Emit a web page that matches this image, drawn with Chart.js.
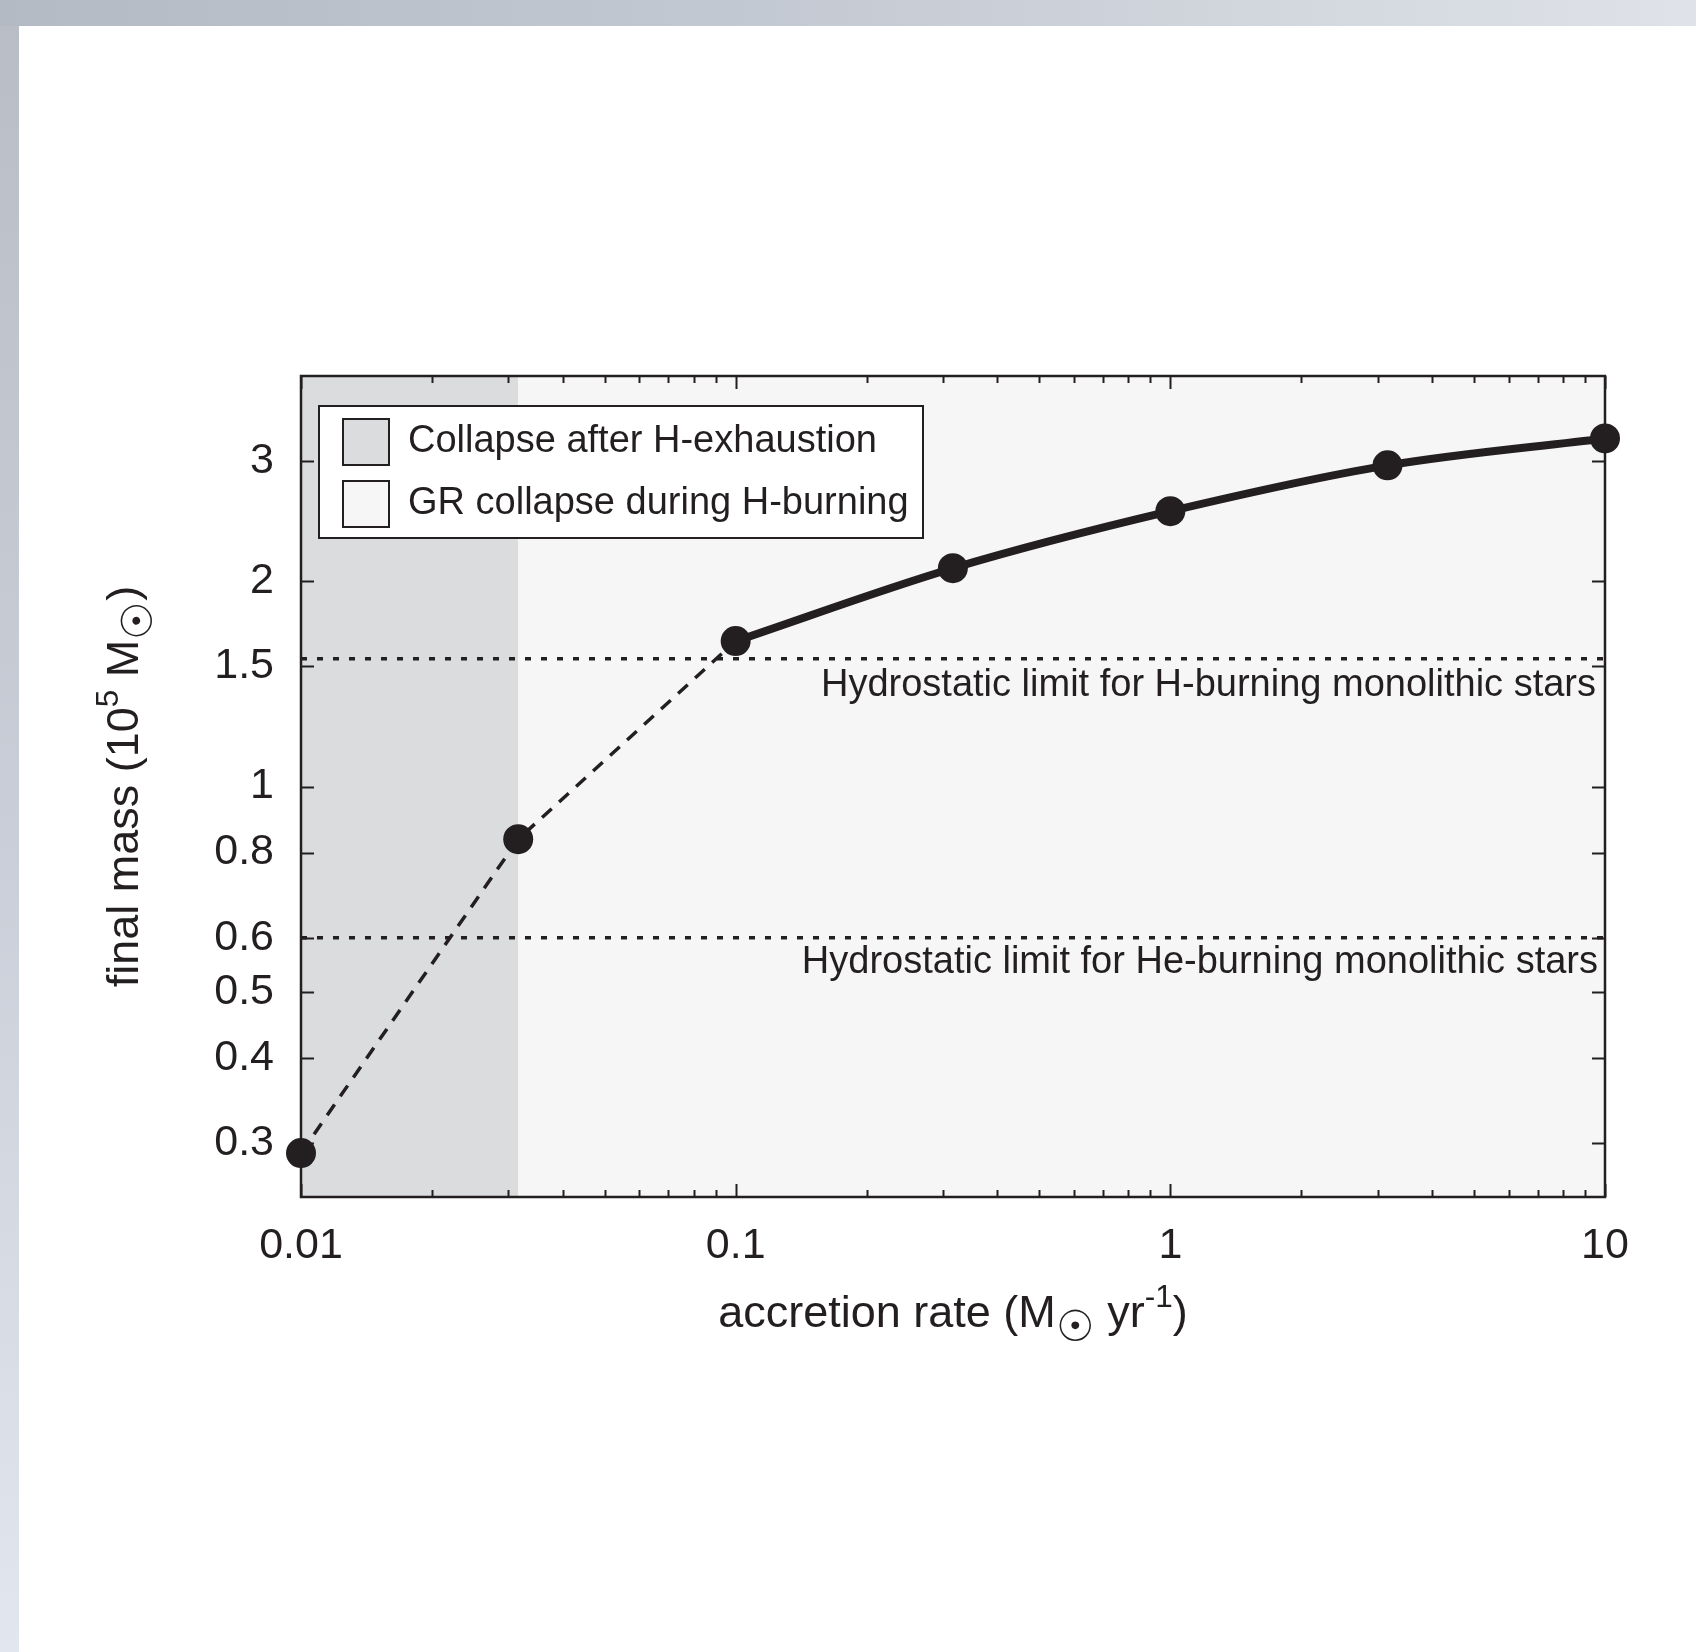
<!DOCTYPE html>
<html>
<head>
<meta charset="utf-8">
<script src="https://cdn.jsdelivr.net/npm/chart.js@4.4.1/dist/chart.umd.min.js"></script>
<style>
  html, body { margin: 0; padding: 0; }
  body {
    width: 1696px; height: 1652px; position: relative; overflow: hidden;
    background: linear-gradient(90deg, #b4bac4 0%, #c3c9d2 45%, #dfe2e8 100%);
  }
  #leftband {
    position: absolute; left: 0; top: 26px; width: 19px; bottom: 0;
    background: linear-gradient(180deg, #b9bec6 0%, #c9ced8 50%, #e2e6ee 100%);
  }
  #frame { position: absolute; left: 19px; top: 26px; right: 0; bottom: 0; background: #fff; }
  #wrap { position: absolute; left: 0; top: 0; width: 1696px; height: 1652px; }
</style>
</head>
<body>
<div id="leftband"></div>
<div id="frame"></div>
<div id="wrap"><canvas id="chart" width="1696" height="1652"></canvas></div>
<script>
// accretion rate (Msun/yr) and final mass (1e5 Msun)
var rate = [0.01, 0.0316, 0.1, 0.316, 1, 3.16, 10];
var mass = [0.29, 0.837, 1.634, 2.09, 2.534, 2.958, 3.24];
// models that collapse during H-burning (solid curve)
var rateGR = [0.1, 0.316, 1, 3.16, 10];
var massGR = [1.634, 2.09, 2.534, 2.958, 3.24];

var limitH = 1.54;
var limitHe = 0.6;
var limitLabels = ['Hydrostatic limit for H-burning monolithic stars',
                   'Hydrostatic limit for He-burning monolithic stars'];

var xTicks = [0.01, 0.1, 1, 10];
var yTicks = [0.3, 0.4, 0.5, 0.6, 0.8, 1, 1.5, 2, 3];

// shaded regions: [from, to] in accretion rate
var regionEdges = [0.01, 0.0316, 10];
var regionNames = ['Collapse after H-exhaustion', 'GR collapse during H-burning'];
var regionColors = ['#dbdcde', '#f6f6f6'];

var ink = '#231f20';
var fontFam = '"Liberation Sans", Arial, Helvetica, sans-serif';

function pts(xs, ys) {
  var out = [];
  for (var i = 0; i < xs.length; i++) out.push({x: xs[i], y: ys[i]});
  return out;
}

function drawRich(ctx, parts, size, x, y) {
  // parts: [text, shift, scale] shift 0 normal, -1 subscript, 1 superscript
  var total = 0;
  parts.forEach(function(p) {
    ctx.font = (size * p[2]) + 'px ' + fontFam;
    total += ctx.measureText(p[0]).width;
  });
  var cx = x - total / 2;
  ctx.textAlign = 'left';
  ctx.textBaseline = 'alphabetic';
  parts.forEach(function(p) {
    ctx.font = (size * p[2]) + 'px ' + fontFam;
    var dy = p[1] === -1 ? size * 0.3 : (p[1] === 1 ? -size * 0.45 : 0);
    ctx.fillText(p[0], cx, y + dy);
    cx += ctx.measureText(p[0]).width;
  });
}

var framePlugin = {
  id: 'frame',
  beforeDatasetsDraw: function(chart) {
    var ctx = chart.ctx, a = chart.chartArea;
    var xs = chart.scales.x, ys = chart.scales.y;
    ctx.save();
    // regions
    for (var i = 0; i < regionEdges.length - 1; i++) {
      var x0 = xs.getPixelForValue(regionEdges[i]);
      var x1 = xs.getPixelForValue(regionEdges[i + 1]);
      ctx.fillStyle = regionColors[i];
      ctx.fillRect(x0, a.top, x1 - x0, a.bottom - a.top);
    }
    // inward ticks
    ctx.strokeStyle = ink;
    ctx.lineWidth = 2;
    ctx.beginPath();
    for (var d = -2; d < 1; d++) {
      for (var k = 1; k <= 10; k++) {
        var v = k * Math.pow(10, d);
        var px = Math.round(xs.getPixelForValue(v)) + 0.5;
        var len = (k === 1 || k === 10) ? 13 : 7;
        ctx.moveTo(px, a.bottom); ctx.lineTo(px, a.bottom - len);
        ctx.moveTo(px, a.top); ctx.lineTo(px, a.top + len);
      }
    }
    yTicks.forEach(function(v) {
      var py = Math.round(ys.getPixelForValue(v)) + 0.5;
      ctx.moveTo(a.left, py); ctx.lineTo(a.left + 13, py);
      ctx.moveTo(a.right, py); ctx.lineTo(a.right - 13, py);
    });
    ctx.stroke();
    // box
    ctx.lineWidth = 2.5;
    ctx.strokeRect(a.left, a.top, a.right - a.left, a.bottom - a.top);
    ctx.restore();
  },
  afterDatasetsDraw: function(chart) {
    var ctx = chart.ctx, a = chart.chartArea;
    var ys = chart.scales.y;
    ctx.save();
    ctx.fillStyle = ink;
    // limit labels
    ctx.font = '38px ' + fontFam;
    ctx.textAlign = 'right';
    ctx.textBaseline = 'middle';
    ctx.fillText(limitLabels[0], a.right - 9, ys.getPixelForValue(limitH) + 27);
    ctx.fillText(limitLabels[1], a.right - 7, ys.getPixelForValue(limitHe) + 25);

    // legend
    var lx = 319, ly = 406, lw = 604, lh = 132;
    ctx.fillStyle = '#ffffff';
    ctx.fillRect(lx, ly, lw, lh);
    ctx.strokeStyle = ink;
    ctx.lineWidth = 2;
    ctx.strokeRect(lx, ly, lw, lh);
    for (var i = 0; i < regionNames.length; i++) {
      var sy = ly + 13 + i * 62;
      ctx.fillStyle = regionColors[i];
      ctx.fillRect(343, sy, 46, 46);
      ctx.strokeRect(343, sy, 46, 46);
      ctx.fillStyle = ink;
      ctx.textAlign = 'left';
      ctx.textBaseline = 'middle';
      ctx.font = '38px ' + fontFam;
      ctx.fillText(regionNames[i], 408, sy + 23);
    }

    // axis titles
    ctx.fillStyle = ink;
    drawRich(ctx, [['accretion rate (M', 0, 1], ['\u2609', -1, 0.95], [' yr', 0, 1], ['-1', 1, 0.7], [')', 0, 1]],
      45, (a.left + a.right) / 2, 1327);
    ctx.save();
    ctx.translate(138, (a.top + a.bottom) / 2);
    ctx.rotate(-Math.PI / 2);
    drawRich(ctx, [['final mass (10', 0, 1], ['5', 1, 0.7], [' M', 0, 1], ['\u2609', -1, 0.95], [')', 0, 1]], 45, 0, 0);
    ctx.restore();
    ctx.restore();
  }
};

var ctx = document.getElementById('chart');
new Chart(ctx, {
  type: 'line',
  data: {
    datasets: [
      {
        label: 'models',
        data: pts(rate, mass),
        showLine: false,
        pointRadius: 15,
        pointBackgroundColor: ink,
        pointBorderWidth: 0,
        clip: false,
        order: 0
      },
      {
        label: 'GR collapse',
        data: pts(rateGR, massGR),
        borderColor: ink,
        borderWidth: 8,
        pointRadius: 0,
        cubicInterpolationMode: 'monotone',
        order: 1
      },
      {
        label: 'all models',
        data: pts(rate, mass),
        borderColor: ink,
        borderWidth: 3.5,
        borderDash: [13, 10],
        pointRadius: 0,
        order: 2
      },
      {
        label: 'H limit',
        data: pts([0.01, 10], [limitH, limitH]),
        borderColor: ink,
        borderWidth: 3.5,
        borderDash: [6, 10],
        pointRadius: 0,
        order: 3
      },
      {
        label: 'He limit',
        data: pts([0.01, 10], [limitHe, limitHe]),
        borderColor: ink,
        borderWidth: 3.5,
        borderDash: [6, 10],
        pointRadius: 0,
        order: 3
      }
    ]
  },
  options: {
    responsive: false,
    animation: false,
    layout: { padding: { left: 0, top: 376, right: 91, bottom: 305 } },
    plugins: { legend: { display: false }, tooltip: { enabled: false } },
    scales: {
      x: {
        type: 'logarithmic',
        min: 0.01, max: 10,
        grid: { display: false, drawTicks: false },
        border: { display: false },
        afterBuildTicks: function(s) { s.ticks = xTicks.map(function(v) { return {value: v}; }); },
        afterFit: function(s) { s.height = 150; },
        ticks: {
          color: ink, padding: 23, maxRotation: 0, autoSkip: false,
          font: { size: 43, family: fontFam },
          callback: function(v) { return String(v); }
        }
      },
      y: {
        type: 'logarithmic',
        min: 0.25, max: 4,
        grid: { display: false, drawTicks: false },
        border: { display: false },
        afterBuildTicks: function(s) { s.ticks = yTicks.map(function(v) { return {value: v}; }); },
        afterFit: function(s) { s.width = 301; },
        ticks: {
          color: ink, padding: 27, autoSkip: false,
          font: { size: 43, family: fontFam },
          callback: function(v) { return String(v); }
        }
      }
    }
  },
  plugins: [framePlugin]
});
</script>
</body>
</html>
